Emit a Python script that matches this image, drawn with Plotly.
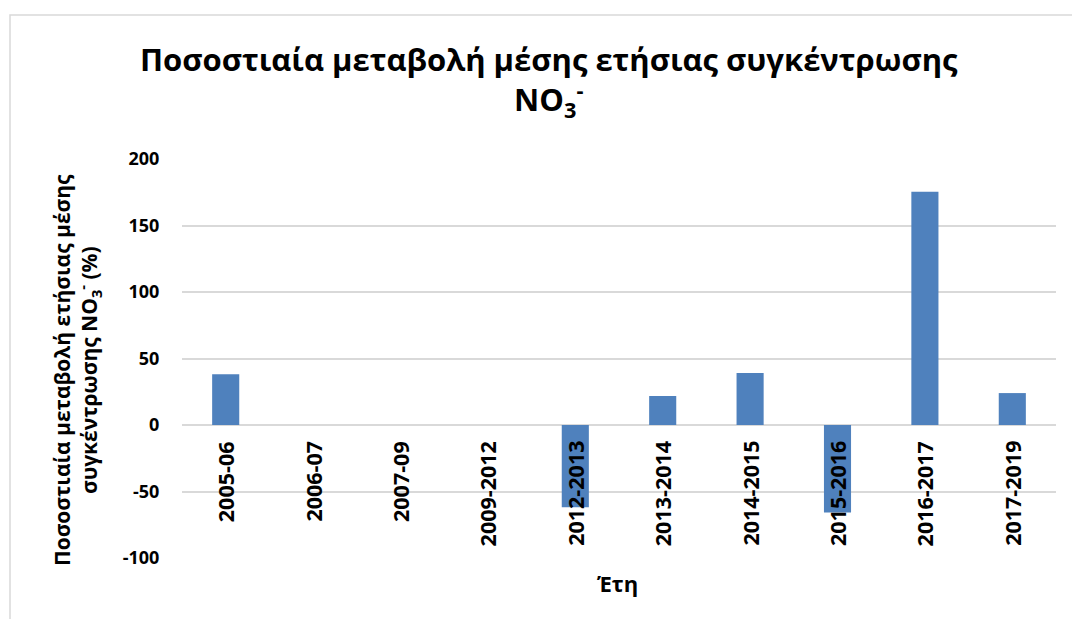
import plotly.graph_objects as go

# Period labels and percentage change of mean annual NO3- concentration
periods = ["2005-06", "2006-07", "2007-09", "2009-2012", "2012-2013",
           "2013-2014", "2014-2015", "2015-2016", "2016-2017", "2017-2019"]
change_pct = [38.1, 0, 0, 0, -61.9, 21.8, 39.1, -65.7, 175.4, 24.0]

y_ticks = [-100, -50, 0, 50, 100, 150, 200]
y_tick_text = [str(v) for v in y_ticks]

FONT = "Open Sans"
BAR_COLOR = "#4F81BD"
GRID_COLOR = "#D9D9D9"

W, H = 1072, 619
ML, MR, MT, MB = 182, 16, 159, 61
PW, PH = W - ML - MR, H - MT - MB


def px_x(p):
    return (p - ML) / PW


def px_y(p):
    return (H - MB - p) / PH


fig = go.Figure(
    go.Bar(
        x=periods,
        y=change_pct,
        marker=dict(color=BAR_COLOR, line=dict(width=0)),
        width=0.31,
    )
)

# Category labels sit just under the zero line, rotated
annotations = []
for p in periods:
    annotations.append(dict(
        x=p, y=0, xref="x", yref="y",
        text=p, textangle=-90, showarrow=False,
        xanchor="center", yanchor="top", yshift=-14,
        font=dict(family=FONT, size=21.5, color="black", weight="bold"),
    ))

# Two-line vertical axis title
annotations.append(dict(
    x=px_x(77), y=px_y(370), xref="paper", yref="paper",
    text="Ποσοστιαία μεταβολή ετήσιας μέσης<br>συγκέντρωσης NO<sub>3</sub><sup>-</sup> (%)",
    textangle=-90, showarrow=False, xanchor="center", yanchor="middle",
    font=dict(family=FONT, size=21, color="black", weight="bold"),
))

# Horizontal axis title
annotations.append(dict(
    x=px_x(617), y=px_y(583), xref="paper", yref="paper",
    text="Έτη", showarrow=False, xanchor="center", yanchor="middle",
    font=dict(family=FONT, size=22, color="black", weight="bold"),
))

# Chart title
annotations.append(dict(
    x=px_x(549), y=px_y(81), xref="paper", yref="paper",
    text="Ποσοστιαία μεταβολή μέσης ετήσιας συγκέντρωσης<br>NO<sub>3</sub><sup>-</sup>",
    showarrow=False, xanchor="center", yanchor="middle",
    font=dict(family=FONT, size=31, color="black", weight="bold"),
))

# Outer chart frame
shapes = [dict(
    type="rect", xref="paper", yref="paper",
    x0=px_x(10), y0=px_y(640), x1=px_x(1090), y1=px_y(15),
    line=dict(color="#D9D9D9", width=1.5), fillcolor="rgba(0,0,0,0)", layer="below",
)]

fig.update_layout(
    width=W, height=H,
    margin=dict(l=ML, r=MR, t=MT, b=MB),
    paper_bgcolor="white", plot_bgcolor="white",
    showlegend=False,
    annotations=annotations,
    shapes=shapes,
    xaxis=dict(
        type="category", range=[-0.5, len(periods) - 0.5],
        showticklabels=False, showgrid=False, zeroline=False,
        showline=False, ticks="",
    ),
    yaxis=dict(
        range=[-100, 200], tickvals=y_ticks, ticktext=y_tick_text,
        showgrid=True, gridcolor=GRID_COLOR, gridwidth=1.5,
        zeroline=True, zerolinecolor=GRID_COLOR, zerolinewidth=1.5,
        showline=False, ticks="outside", ticklen=18, tickcolor="rgba(0,0,0,0)",
        tickfont=dict(family=FONT, size=18, color="black", weight="bold"),
    ),
)

fig.write_html("out.html")
